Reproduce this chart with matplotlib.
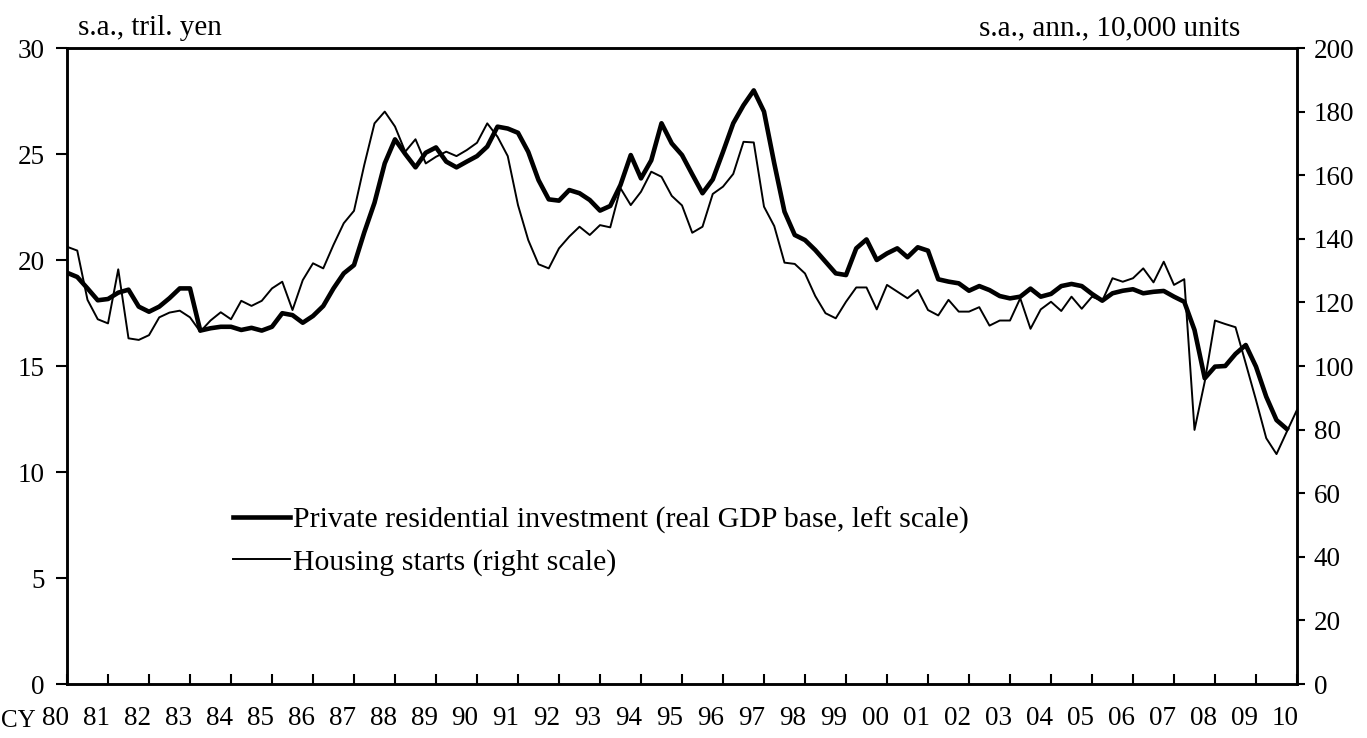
import matplotlib
matplotlib.use('Agg')
import matplotlib.pyplot as plt
import matplotlib.transforms as mtransforms
import numpy as np

# ---------------- data (quarterly, from 1980Q1) ----------------
start_year = 1980
investment = [
    19.4, 19.2, 18.66, 18.1, 18.16, 18.46, 18.6, 17.8, 17.56, 17.8,
    18.2, 18.66, 18.66, 16.67, 16.78, 16.85, 16.85, 16.7, 16.8, 16.67,
    16.85, 17.49, 17.4, 17.04, 17.36, 17.83, 18.66, 19.37, 19.76, 21.3,
    22.7, 24.56, 25.69, 25.0, 24.37, 25.06, 25.31, 24.64, 24.37, 24.64,
    24.9, 25.35, 26.29, 26.2, 26.0, 25.1, 23.77, 22.86, 22.8, 23.3,
    23.15, 22.83, 22.33, 22.55, 23.54, 24.95, 23.85, 24.7, 26.45, 25.5,
    24.95, 24.04, 23.15, 23.8, 25.1, 26.45, 27.3, 28.0, 27.0, 24.56,
    22.28, 21.18, 20.94, 20.47, 19.92, 19.37, 19.29, 20.55, 20.97, 20.0,
    20.31, 20.55, 20.13, 20.6, 20.44, 19.09, 18.98, 18.9, 18.55, 18.77,
    18.58, 18.3, 18.19, 18.27, 18.65, 18.27, 18.4, 18.77, 18.87, 18.77,
    18.4, 18.08, 18.43, 18.55, 18.62, 18.43, 18.5, 18.54, 18.27, 18.03,
    16.7, 14.42, 14.97, 15.0, 15.57, 15.99, 14.97, 13.55, 12.45, 12.03,
]
starts = [
    137.5, 136.3, 120.8, 114.7, 113.4, 130.4, 108.7, 108.2, 109.7, 115.3,
    116.8, 117.4, 115.3, 110.8, 114.3, 116.9, 114.7, 120.5, 118.9, 120.5,
    124.4, 126.5, 117.6, 127.0, 132.3, 130.7, 138.1, 144.9, 148.8, 163.2,
    176.3, 180.0, 175.3, 167.4, 171.3, 163.7, 165.8, 167.4, 166.0, 167.9,
    170.2, 176.3, 172.1, 166.0, 150.6, 139.6, 132.0, 130.7, 137.0, 140.7,
    143.8, 141.2, 144.3, 143.6, 155.9, 150.6, 154.8, 161.1, 159.5, 153.5,
    150.5, 141.9, 143.8, 154.1, 156.4, 160.4, 170.5, 170.3, 150.1, 144.0,
    132.5, 132.1, 129.1, 122.0, 116.6, 115.0, 120.2, 124.7, 124.7, 117.8,
    125.5, 123.4, 121.3, 123.9, 117.6, 115.9, 120.8, 117.1, 117.1, 118.5,
    112.7, 114.3, 114.3, 121.3, 111.7, 117.8, 120.2, 117.3, 121.8, 118.0,
    121.8, 120.5, 127.6, 126.5, 127.6, 130.7, 126.3, 132.8, 125.5, 127.3,
    79.9, 95.1, 114.3, 113.2, 112.2, 100.8, 89.3, 77.3, 72.3, 79.3, 86.2,
]
year_ticks = list(range(1980, 2011))
year_labels = [f"{y % 100:02d}" for y in year_ticks]
left_ticks = [0, 5, 10, 15, 20, 25, 30]
right_ticks = [0, 20, 40, 60, 80, 100, 120, 140, 160, 180, 200]
label_inv = "Private residential investment (real GDP base, left scale)"
label_starts = "Housing starts (right scale)"
left_unit = "s.a., tril. yen"
right_unit = "s.a., ann., 10,000 units"

# ---------------- plotting ----------------
plt.rcParams['font.family'] = ['Liberation Serif', 'DejaVu Serif']
FS_TICK = 19.5
FS_TEXT = 21
LABEL_OFFSET = -0.29   # year-label centres sit a little left of the ticks

x_inv = start_year + np.arange(len(investment)) / 4.0
x_st = start_year + np.arange(len(starts)) / 4.0

fig = plt.figure(figsize=(13.67, 7.38), dpi=100)
ax = fig.add_axes([67/1367, 1 - 684/738, 1230/1367, 636/738])
ax2 = ax.twinx()

l1, = ax.plot(x_inv, investment, color='black', lw=3.3, zorder=3)
l2, = ax2.plot(x_st, starts, color='black', lw=1.4, zorder=2)

ax.set_xlim(1980, 2010)
ax.set_ylim(0, 30)
ax2.set_ylim(0, 200)

ax.set_yticks(left_ticks)
ax.set_yticklabels([str(v) for v in left_ticks], fontsize=FS_TICK)
ax2.set_yticks(right_ticks)
ax2.set_yticklabels([str(v) for v in right_ticks], fontsize=FS_TICK)

ax.set_xticks(year_ticks)
ax.set_xticklabels([])
xlab_trans = mtransforms.blended_transform_factory(ax.transData, ax.transAxes)
for yr, lab in zip(year_ticks, year_labels):
    ax.text(yr + LABEL_OFFSET, -0.0535, lab, transform=xlab_trans, fontsize=FS_TICK,
            ha='center', va='center', clip_on=False)

for a in (ax, ax2):
    for s in a.spines.values():
        s.set_linewidth(1.8)
ax.tick_params(axis='y', direction='out', length=8, width=1.5, pad=8)
ax2.tick_params(axis='y', direction='out', length=6, width=1.5, pad=6)
ax.tick_params(axis='x', direction='in', length=7, width=1.5)

fig.text(1/1367, 1 - 721/738, "CY", fontsize=18, ha='left', va='center')
ax.text(0.009, 1.011, left_unit, transform=ax.transAxes, fontsize=FS_TEXT, ha='left', va='bottom')
ax.text(0.848, 1.011, right_unit, transform=ax.transAxes, fontsize=FS_TEXT, ha='center', va='bottom')

leg = ax2.legend([l1, l2], [label_inv, label_starts], loc='upper left',
                 bbox_to_anchor=(0.135, 0.279), frameon=False, fontsize=21.5,
                 handlelength=1.9, handletextpad=0.12, labelspacing=0.5,
                 borderpad=0, borderaxespad=0)

fig.savefig('out.png', dpi=100)
